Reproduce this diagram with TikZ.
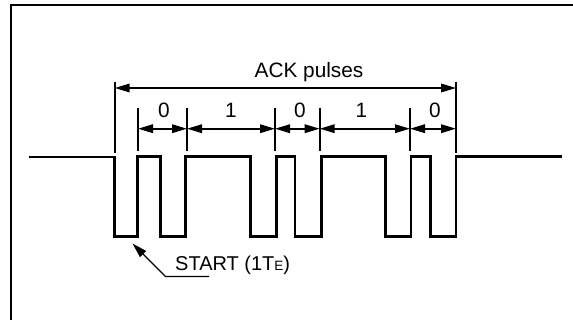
\documentclass[tikz,border=0pt]{standalone}
\usepackage{fontspec}
\setmainfont{Liberation Sans}
\usetikzlibrary{arrows.meta}
\tikzset{
  wave/.style={line width=2.6pt,line join=miter},
  frameline/.style={line width=2pt},
  tick/.style={line width=1.6pt},
  dim/.style={line width=1.8pt,{Triangle[length=15pt,width=8.5pt]}-{Triangle[length=15pt,width=8.5pt]}},
  lead/.style={line width=1.3pt,{Triangle[length=15pt,width=8.5pt]}-},
  lab/.style={font=\fontsize{20.8}{24}\selectfont,inner sep=0pt}
}
\begin{document}
\begin{tikzpicture}[x=1pt,y=-1pt]
\useasboundingbox (0,0) rectangle (573,320);
\draw[frameline] (11,320) -- (11,5.5) -- (573,5.5);
% waveform
\draw[wave] (29,157) -- (114.7,157) -- (114.7,236.5) -- (137.7,236.5) -- (137.7,156.5) -- (160.7,156.5)
  -- (160.7,236.5) -- (185.5,236.5) -- (185.5,156.5) -- (250.5,156.5) -- (250.5,236.5) -- (276.5,236.5)
  -- (276.5,156.5) -- (295,156.5) -- (295,236.5) -- (321.7,236.5) -- (321.7,156.5) -- (385.7,156.5)
  -- (385.7,236.5) -- (411,236.5) -- (411,156.5) -- (430.3,156.5) -- (430.3,236.5) -- (456,236.5)
  -- (456,156.5) -- (561.7,156.5);
% ticks
\coordinate (ta) at (114.7,88);
\coordinate (tb) at (456,88);
\coordinate (s0) at (138,128.7);
\coordinate (s1) at (187,128.7);
\coordinate (s2) at (275,128.7);
\coordinate (s3) at (319.7,128.7);
\coordinate (s4) at (410,128.7);
\coordinate (s5) at (456,128.7);
\draw[tick] (114.7,82) -- (114.7,153);
\draw[tick] (456,82) -- (456,153);
\foreach \n in {s0,s1,s2,s3,s4}{
  \draw[tick] (\n |- 0,108) -- (\n |- 0,151.5);
}
\draw[dim] (ta) -- (tb);
\draw[dim] (s0) -- (s1);
\draw[dim] (s1) -- (s2);
\draw[dim] (s2) -- (s3);
\draw[dim] (s3) -- (s4);
\draw[dim] (s4) -- (s5);
% labels
\node[lab] (ack) at (309,72) {ACK pulses};
\node[lab] (l0) at (164,110) {0};
\node[lab] (l1) at (231,110) {1};
\node[lab] (l2) at (300,110) {0};
\node[lab] (l3) at (361.5,110) {1};
\node[lab] (l4) at (435,110) {0};
% start
\node[lab,anchor=base west,font=\fontsize{20}{24}\selectfont] (st) at (175,270.5) {START (1T{\fontsize{13.5}{16}\selectfont E})};
\coordinate (tip) at (132.5,243.5);
\coordinate (kn) at (165.5,276.5);
\coordinate (en) at (209,276.5);
\draw[lead] (tip) -- (kn) -- (en);
\end{tikzpicture}
\end{document}
